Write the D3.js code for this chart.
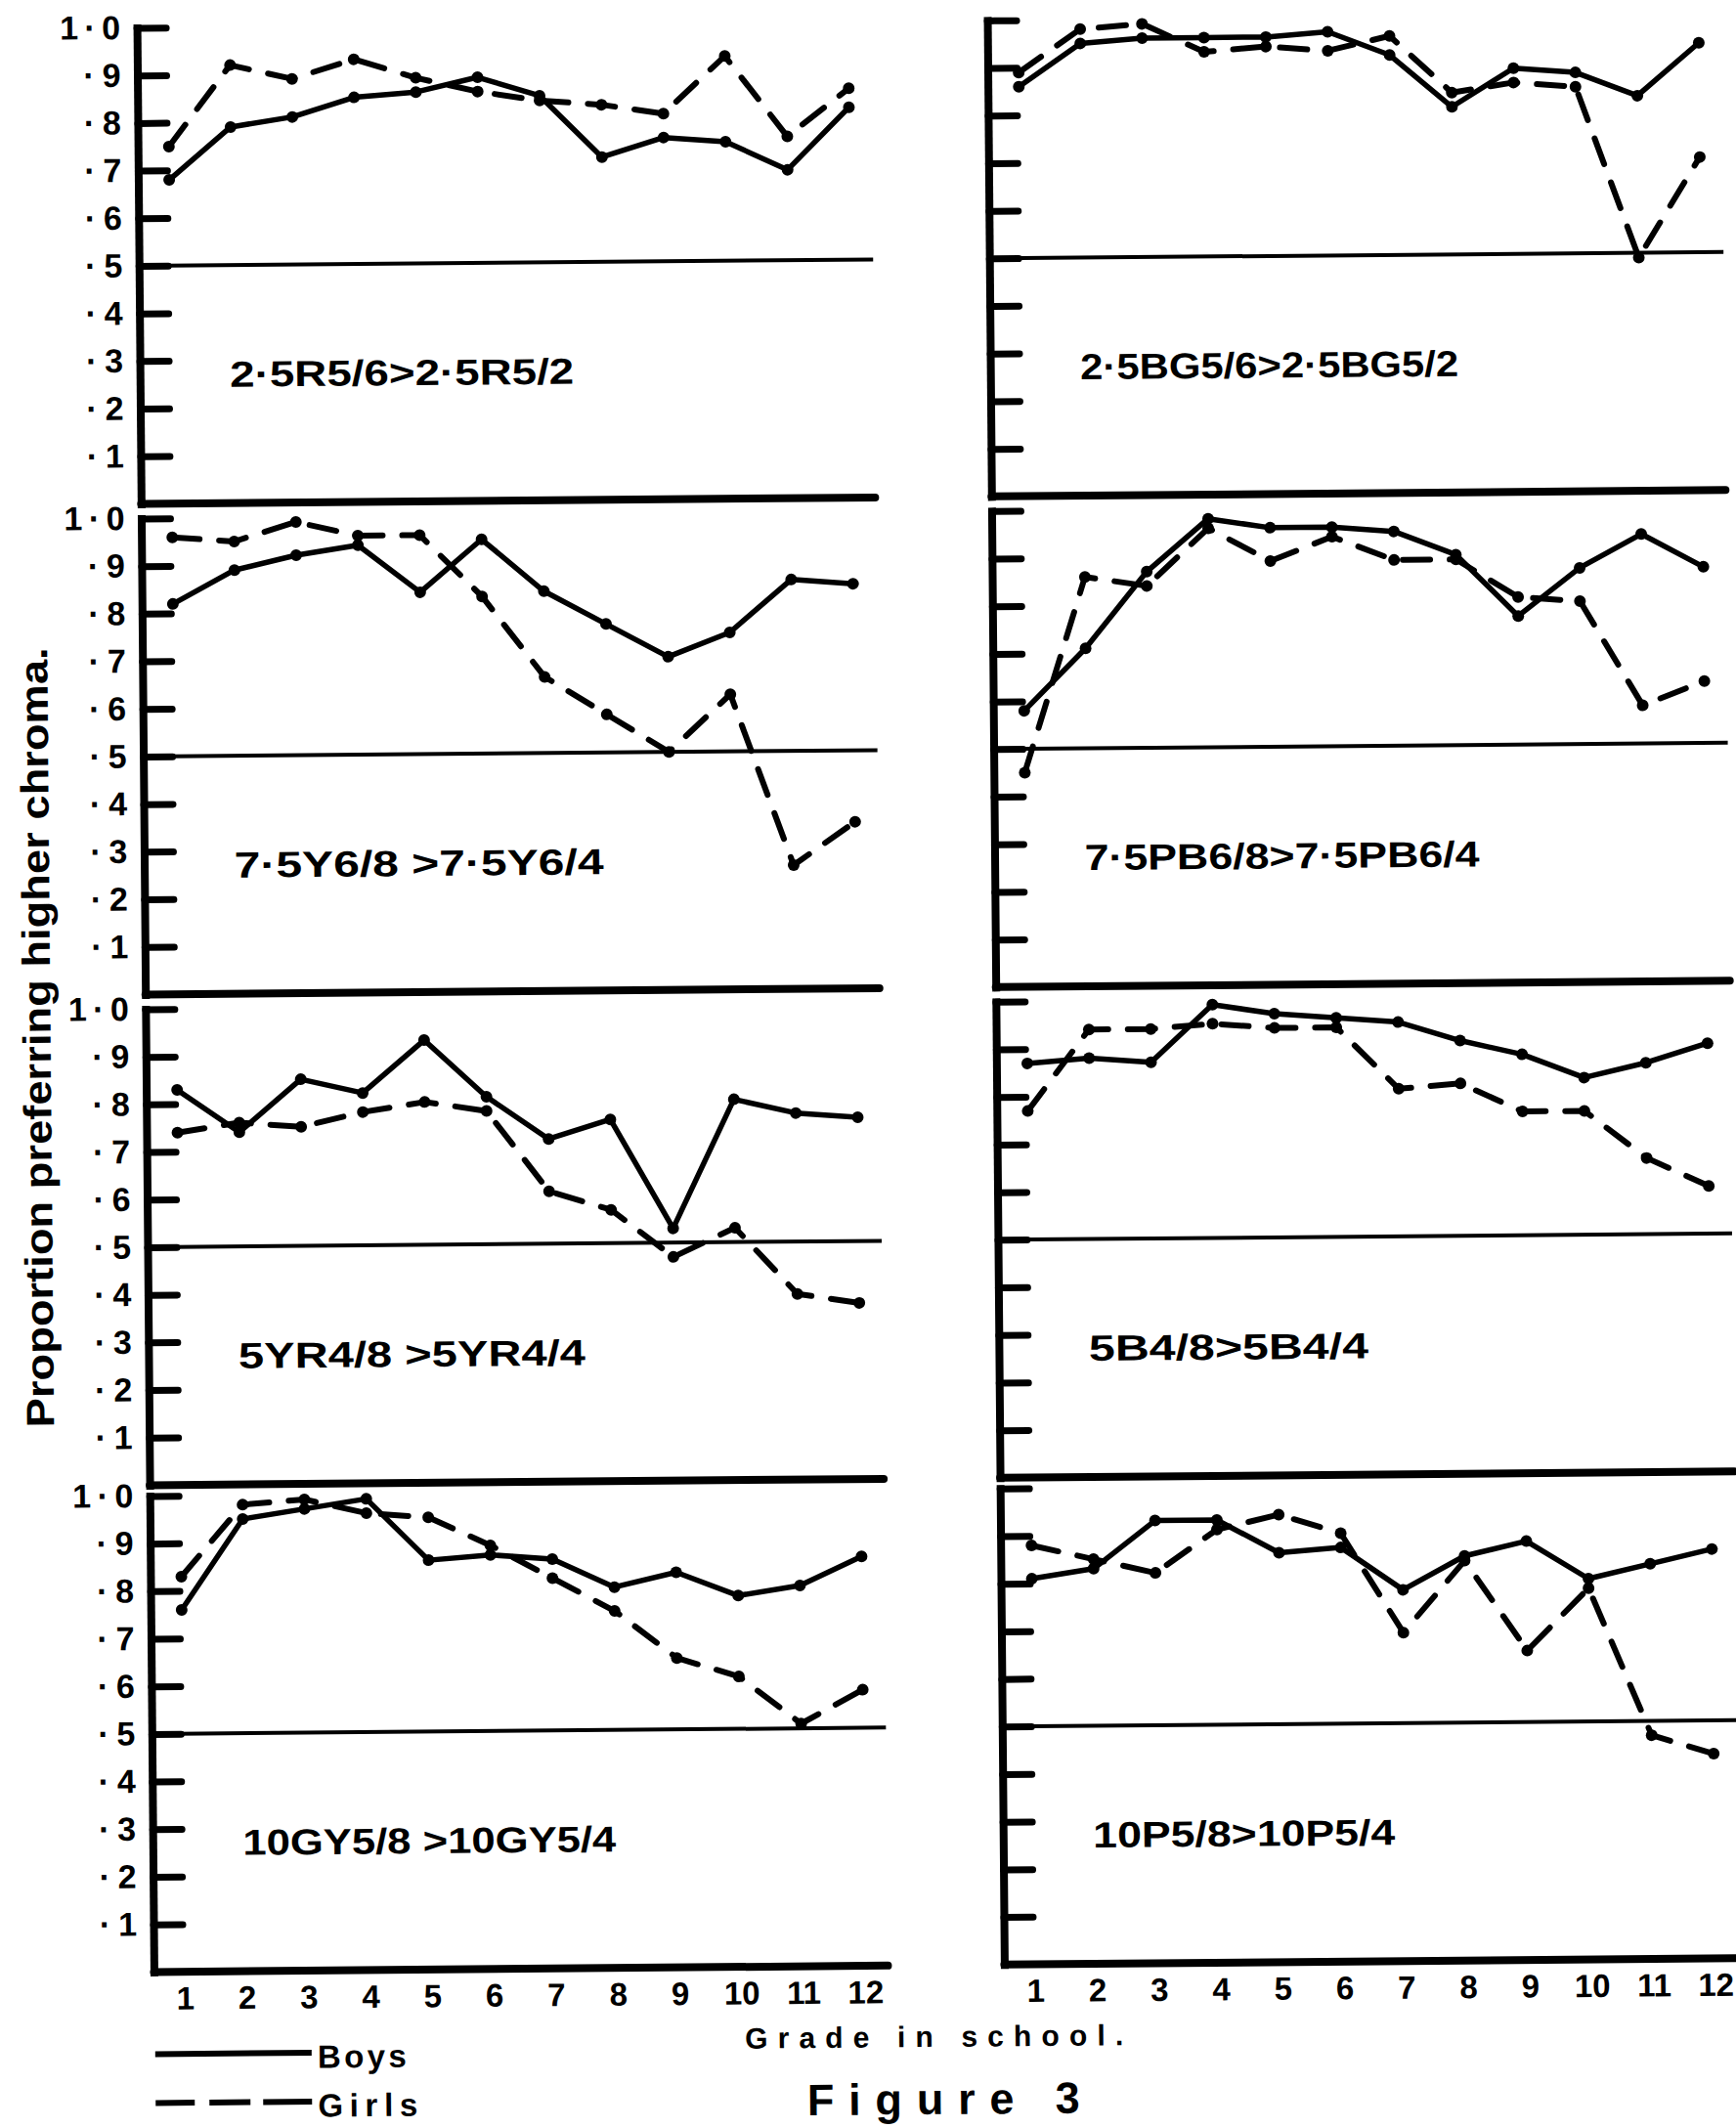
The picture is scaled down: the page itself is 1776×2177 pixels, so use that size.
<!DOCTYPE html>
<html><head><meta charset="utf-8">
<script src="https://cdn.jsdelivr.net/npm/d3@7"></script>
<style>
html,body{margin:0;padding:0;background:#fff;}
svg{display:block;background:#fff;}
text{font-family:"Liberation Sans","DejaVu Sans",Arial,sans-serif;font-weight:bold;fill:#000;}
</style></head><body>
<svg id="chart" width="1776" height="2177"></svg>
<script>
// ---------- data ----------
const grades = [1,2,3,4,5,6,7,8,9,10,11,12];
const yTickValues = [1.0,0.9,0.8,0.7,0.6,0.5,0.4,0.3,0.2,0.1];
const yTickLabels = ["1·0","·9","·8","·7","·6","·5","·4","·3","·2","·1"];
const panelTitles = ["2·5R5/6>2·5R5/2","2·5BG5/6>2·5BG5/2","7·5Y6/8 >7·5Y6/4","7·5PB6/8>7·5PB6/4",
                     "5YR4/8 >5YR4/4","5B4/8>5B4/4","10GY5/8 >10GY5/4","10P5/8>10P5/4"];
const seriesNames = ["Boys","Girls"];
const xTitle = "Grade in school.";
const yTitle = "Proportion preferring higher chroma.";
const figTitle = "Figure 3";

const boys_R   = [0.68,0.79,0.81,0.85,0.86,0.89,0.85,0.72,0.76,0.75,0.69,0.82];
const girls_R  = [0.75,0.92,0.89,0.93,0.89,0.86,0.84,0.83,0.81,0.93,0.76,0.86];
const boys_BG  = [0.86,0.95,0.96,0.96,0.96,0.97,0.92,0.81,0.89,0.88,0.83,0.94];
const girls_BG = [0.89,0.98,0.99,0.93,0.94,0.93,0.96,0.84,0.86,0.85,0.49,0.70];
const boys_Y   = [0.82,0.89,0.92,0.94,0.84,0.95,0.84,0.77,0.70,0.75,0.86,0.85];
const girls_Y  = [0.96,0.95,0.99,0.96,0.96,0.83,0.66,0.58,0.50,0.62,0.26,0.35];
const boys_PB  = [0.58,0.71,0.87,0.98,0.96,0.96,0.95,0.90,0.77,0.87,0.94,0.87];
const girls_PB = [0.45,0.86,0.84,0.96,0.89,0.94,0.89,0.89,0.81,0.80,0.58,0.63];
const boys_YR  = [0.83,0.74,0.85,0.82,0.93,0.81,0.72,0.76,0.53,0.80,0.77,0.76];
const girls_YR = [0.74,0.76,0.75,0.78,0.80,0.78,0.61,0.57,0.47,0.53,0.39,0.37];
const boys_B   = [0.87,0.88,0.87,0.99,0.97,0.96,0.95,0.91,0.88,0.83,0.86,0.90];
const girls_B  = [0.77,0.94,0.94,0.95,0.94,0.94,0.81,0.82,0.76,0.76,0.66,0.60];
const boys_GY  = [0.76,0.95,0.97,0.99,0.86,0.87,0.86,0.80,0.83,0.78,0.80,0.86];
const girls_GY = [0.83,0.98,0.99,0.96,0.95,0.89,0.82,0.75,0.65,0.61,0.51,0.58];
const boys_P   = [0.81,0.83,0.93,0.93,0.86,0.87,0.78,0.85,0.88,0.80,0.83,0.86];
const girls_P  = [0.88,0.85,0.82,0.91,0.94,0.90,0.69,0.84,0.65,0.78,0.47,0.43];

const boysAll  = [boys_R,boys_BG,boys_Y,boys_PB,boys_YR,boys_B,boys_GY,boys_P];
const girlsAll = [girls_R,girls_BG,girls_Y,girls_PB,girls_YR,girls_B,girls_GY,girls_P];

// ---------- layout ----------
const colRanges = [[181,877],[1051,1747]];
const rowTops = [22,524,1026,1524];
const plotH = 487;
const titleWidths = [352,387,378,404,355,286,382,309];

const svg = d3.select("#chart");
const root = svg.append("g").attr("transform","rotate(-0.5,888,1088)");

panelTitles.forEach((title,i)=>{
  const col = i%2, row = Math.floor(i/2);
  const x = d3.scaleLinear().domain([1,12]).range(colRanges[col]);
  const y = d3.scaleLinear().domain([0,1]).range([rowTops[row]+plotH, rowTops[row]]);
  const g = root.append("g");
  const x0 = x(0.5), xEnd = x(12.37);

  // y axis (ticks pointing inward)
  const ax = d3.axisLeft(y).tickValues(yTickValues).tickSizeInner(-30).tickSizeOuter(0).tickPadding(17)
     .tickFormat(col===0 ? ((d,k)=>yTickLabels[k]) : (()=>""));
  const axG = g.append("g").attr("transform",`translate(${x0},0)`).call(ax);
  axG.select(".domain").attr("stroke","#000").attr("stroke-width",8).attr("stroke-linecap","square");
  axG.selectAll(".tick line").attr("stroke","#000").attr("stroke-width",7).attr("stroke-linecap","round");
  axG.selectAll(".tick text").attr("fill","#000").style("font-size","34px")
     .attr("textLength",function(){return this.textContent.length>=3?62:38;})
     .attr("lengthAdjust","spacing");
  axG.attr("font-family",null).attr("font-size",null);

  // 0.5 reference line and baseline
  g.append("line").attr("x1",x0).attr("x2",xEnd).attr("y1",y(0.5)).attr("y2",y(0.5))
    .attr("stroke","#000").attr("stroke-width",4);
  g.append("line").attr("x1",x0).attr("x2",xEnd).attr("y1",y(0)).attr("y2",y(0))
    .attr("stroke","#000").attr("stroke-width",8).attr("stroke-linecap","round");

  // panel label
  g.append("text").attr("x",x0+92).attr("y",y(0.27)).attr("dominant-baseline","central")
    .style("font-size","37px").attr("textLength",titleWidths[i]).attr("lengthAdjust","spacingAndGlyphs").text(title);

  // series
  const line = d3.line().x((d,k)=>x(grades[k])).y(d=>y(d));
  [[boysAll[i],null],[girlsAll[i],"28,20"]].forEach(([vals,dash])=>{
    g.append("path").datum(vals).attr("d",line).attr("fill","none").attr("stroke","#000")
      .attr("stroke-width",dash?6:5.5).attr("stroke-linejoin","round").attr("stroke-linecap","round")
      .attr("stroke-dasharray",dash);
    g.selectAll(null).data(vals).enter().append("circle")
      .attr("cx",(d,k)=>x(grades[k])).attr("cy",d=>y(d)).attr("r",6).attr("fill","#000");
  });

  // x axis labels on bottom row
  if(row===3){
    const xa = d3.axisBottom(x).tickValues(grades).tickSize(0).tickPadding(15).tickFormat(d=>String(d));
    const xg = g.append("g").attr("transform",`translate(0,${y(0)})`).call(xa);
    xg.select(".domain").remove();
    xg.selectAll(".tick text").attr("fill","#000").style("font-size","33px");
    xg.attr("font-family",null).attr("font-size",null);
  }
});

// axis titles
root.append("text").attr("x",947).attr("y",2084).attr("text-anchor","middle").attr("dominant-baseline","central")
  .style("font-size","30px").attr("textLength",387).attr("lengthAdjust","spacing").text(xTitle);
root.append("text").attr("transform","translate(38,1054) rotate(-90)").attr("text-anchor","middle")
  .attr("dominant-baseline","central").style("font-size","40px").attr("textLength",798)
  .attr("lengthAdjust","spacingAndGlyphs").text(yTitle);

// legend
const legend = root.append("g");
const legY = [2095,2145];
const legDash = [null,"40,15,42,13,50"];
const legW = [91,102];
seriesNames.forEach((n,k)=>{
  legend.append("line").attr("x1",150).attr("x2",310).attr("y1",legY[k]).attr("y2",legY[k])
    .attr("stroke","#000").attr("stroke-width",6).attr("stroke-dasharray",legDash[k]);
  legend.append("text").attr("x",316).attr("y",legY[k]+4).attr("dominant-baseline","central")
    .style("font-size","33px").attr("textLength",legW[k]).attr("lengthAdjust","spacing").text(n);
});

// figure caption
root.append("text").attr("x",956).attr("y",2148).attr("text-anchor","middle").attr("dominant-baseline","central")
  .style("font-size","45px").attr("textLength",279).attr("lengthAdjust","spacing").text(figTitle);
</script>
</body></html>
